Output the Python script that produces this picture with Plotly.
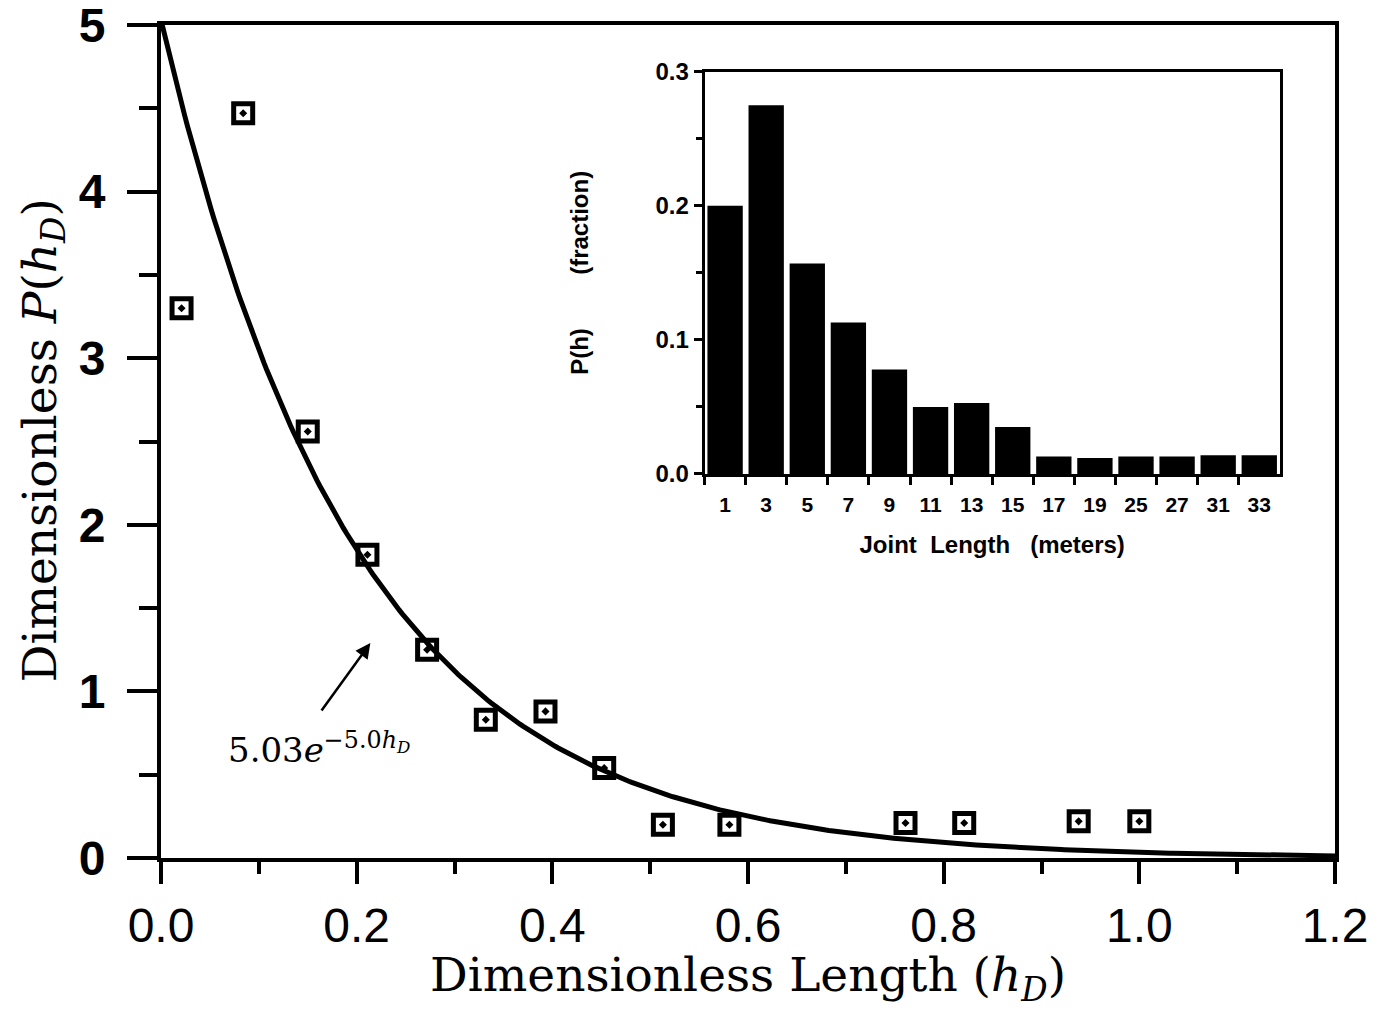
import numpy as np
import plotly.graph_objects as go

# main data
h_d = [0.021, 0.084, 0.150, 0.211, 0.272, 0.332, 0.393, 0.453, 0.513, 0.581, 0.761, 0.821, 0.938, 1.000]
p_hd = [3.30, 4.47, 2.56, 1.82, 1.25, 0.83, 0.88, 0.54, 0.20, 0.20, 0.21, 0.21, 0.22, 0.22]
fit_a = 5.03
fit_b = 5.0

# inset data
joint_length = ["1", "3", "5", "7", "9", "11", "13", "15", "17", "19", "25", "27", "31", "33"]
p_h = [0.200, 0.275, 0.157, 0.113, 0.078, 0.050, 0.053, 0.035, 0.013, 0.012, 0.013, 0.013, 0.014, 0.014]

# tick labels
main_x_ticks = [0, 0.2, 0.4, 0.6, 0.8, 1.0, 1.2]
main_x_text = ["0.0", "0.2", "0.4", "0.6", "0.8", "1.0", "1.2"]
main_y_ticks = [0, 1, 2, 3, 4, 5]
inset_y_ticks = [0, 0.1, 0.2, 0.3]
inset_y_text = ["0.0", "0.1", "0.2", "0.3"]

x_fit = np.linspace(0, 1.2, 400)
y_fit = fit_a * np.exp(-fit_b * x_fit)

fig = go.Figure()
fig.add_trace(go.Scatter(x=x_fit, y=y_fit, mode="lines",
                         line=dict(color="black", width=5), showlegend=False))
fig.add_trace(go.Scatter(x=h_d, y=p_hd, mode="markers",
                         marker=dict(symbol="square-open-dot", size=19, color="black",
                                     line=dict(width=5, color="black")),
                         showlegend=False))
fig.add_trace(go.Bar(x=joint_length, y=p_h, marker=dict(color="black", line=dict(width=0)),
                     xaxis="x2", yaxis="y2", showlegend=False))

x_font = dict(family="Liberation Sans, Arial", size=48, color="black")
y_font = dict(family="Liberation Sans, Arial", size=48, color="black")
serif = dict(family="DejaVu Serif, Liberation Serif", size=47, color="black")
inset_xtick_font = dict(family="Liberation Sans, Arial", size=21, color="black")
inset_ytick_font = dict(family="Liberation Sans, Arial", size=24, color="black")
inset_title_font = dict(family="Liberation Sans, Arial", size=24, color="black")

fig.update_layout(
    width=1391, height=1009,
    margin=dict(l=161, r=56, t=25, b=151),
    paper_bgcolor="white", plot_bgcolor="white",
    bargap=0.14,
    xaxis=dict(range=[0, 1.2], tickvals=main_x_ticks, ticktext=main_x_text, automargin=False,
               ticklabeloverflow="allow",
               ticks="outside", ticklen=22, tickwidth=4, tickcolor="black",
               minor=dict(dtick=0.1, ticks="outside", ticklen=12, tickwidth=4, tickcolor="black"),
               showline=True, linewidth=4, linecolor="black", mirror=True,
               showgrid=False, zeroline=False, tickfont=x_font,
               title=dict(text="Dimensionless Length (<i>h</i><sub><i>D</i></sub>)", font=serif, standoff=0)),
    yaxis=dict(range=[0, 5], tickvals=main_y_ticks, automargin=False,
               ticklabeloverflow="allow", ticklabelstandoff=12,
               ticktext=["<b>%d</b>" % v for v in main_y_ticks],
               ticks="outside", ticklen=30, tickwidth=4, tickcolor="black",
               minor=dict(dtick=0.5, ticks="outside", ticklen=18, tickwidth=4, tickcolor="black"),
               showline=True, linewidth=4, linecolor="black", mirror=True,
               showgrid=False, zeroline=False, tickfont=y_font),
    xaxis2=dict(domain=[0.463, 0.953], anchor="y2", type="category", automargin=False,
                tickvals=joint_length, ticktext=["<b>%s</b>" % t for t in joint_length],
                tickson="boundaries", ticks="outside", ticklen=8, tickwidth=3, tickcolor="black",
                ticklabelstandoff=10,
                showline=True, linewidth=3, linecolor="black", mirror=True,
                showgrid=False, zeroline=False, tickfont=inset_xtick_font,
                title=dict(text="<b>Joint  Length   (meters)</b>", font=inset_title_font, standoff=22)),
    yaxis2=dict(domain=[0.461, 0.944], anchor="x2", range=[0, 0.3], automargin=False,
                tickvals=inset_y_ticks, ticktext=["<b>%s</b>" % t for t in inset_y_text],
                ticks="outside", ticklen=8, tickwidth=3, tickcolor="black",
                minor=dict(dtick=0.05, ticks="outside", ticklen=6, tickwidth=3, tickcolor="black"),
                showline=True, linewidth=3, linecolor="black", mirror=True,
                showgrid=False, zeroline=False, tickfont=inset_ytick_font,
                title=dict(text="<b>P(h)        (fraction)</b>", font=inset_title_font, standoff=60)),
    annotations=[
        dict(x=-0.101, y=0.502, xref="paper", yref="paper", showarrow=False, textangle=-90,
             xanchor="center", yanchor="middle",
             text="Dimensionless <i>P</i>(<i>h</i><sub><i>D</i></sub>)", font=serif),
        dict(x=0.214, y=1.29, ax=0.163, ay=0.876, xref="x", yref="y", axref="x", ayref="y",
             text="", showarrow=True, arrowhead=2, arrowsize=1.2, arrowwidth=2.5, arrowcolor="black"),
        dict(x=0.162, y=0.66, xref="x", yref="y", showarrow=False,
             text="5.03<i>e</i><sup>−5.0<i>h</i><sub><i>D</i></sub></sup>",
             font=dict(family="DejaVu Serif, Liberation Serif", size=34, color="black")),
    ],
)

fig.write_html("out.html", config={"displayModeBar": False},
               post_script="document.body.style.margin='0px';")
